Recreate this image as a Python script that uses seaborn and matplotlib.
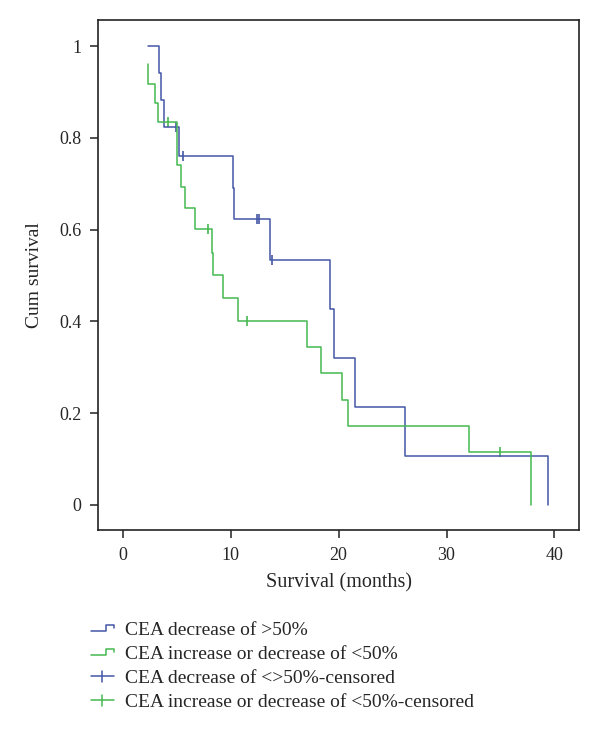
import matplotlib
matplotlib.use("Agg")
import matplotlib.pyplot as plt
import seaborn as sns
import pandas as pd
from matplotlib.lines import Line2D
from matplotlib.legend_handler import HandlerBase

# Kaplan-Meier steps
blue_time = [2.31, 3.36, 3.53, 3.83, 5.24, 10.24, 10.30, 13.64, 19.19, 19.59, 21.50, 26.13, 39.44]
blue_surv = [1.0, 0.941, 0.882, 0.824, 0.760, 0.690, 0.622, 0.533, 0.427, 0.320, 0.213, 0.107, 0.0]
blue_cens_time = [4.94, 5.61, 12.46, 12.65, 13.87]
blue_cens_surv = [0.824, 0.760, 0.622, 0.622, 0.533]

green_time = [2.31, 2.31, 3.02, 3.30, 5.02, 5.37, 5.74, 6.69, 8.24, 8.39, 9.31, 10.65,
              17.04, 18.33, 20.33, 20.83, 32.04, 37.87]
green_surv = [0.960, 0.918, 0.876, 0.834, 0.741, 0.693, 0.648, 0.601, 0.550, 0.502, 0.452, 0.401,
              0.345, 0.287, 0.229, 0.173, 0.115, 0.0]
green_cens_time = [4.17, 7.93, 11.54, 34.94]
green_cens_surv = [0.834, 0.601, 0.401, 0.115]

x_ticks = [0, 10, 20, 30, 40]
y_ticks = [0, 0.2, 0.4, 0.6, 0.8, 1.0]
y_tick_labels = ["0", "0.2", "0.4", "0.6", "0.8", "1"]

labels = ["CEA decrease of >50%",
          "CEA increase or decrease of <50%",
          "CEA decrease of <>50%-censored",
          "CEA increase or decrease of <50%-censored"]

blue = "#4457a6"
green = "#45b950"

sns.set_style("ticks")
plt.rcParams["font.family"] = ["Liberation Serif", "DejaVu Serif"]

fig = plt.figure(figsize=(6, 7.31), dpi=100)
ax = fig.add_axes([0.1638, 0.275, 0.8017, 0.6976])

blue_df = pd.DataFrame({"t": blue_time, "s": blue_surv})
green_df = pd.DataFrame({"t": green_time, "s": green_surv})

sns.lineplot(data=blue_df, x="t", y="s", ax=ax, color=blue, lw=1.1,
             drawstyle="steps-post", sort=False, estimator=None)
sns.lineplot(data=green_df, x="t", y="s", ax=ax, color=green, lw=1.1,
             drawstyle="steps-post", sort=False, estimator=None)
sns.scatterplot(x=blue_cens_time, y=blue_cens_surv, ax=ax, marker="|", s=55,
                color=blue, linewidth=1.2)
sns.scatterplot(x=green_cens_time, y=green_cens_surv, ax=ax, marker="|", s=55,
                color=green, linewidth=1.2)

ax.set_xlim(-2.26, 42.3)
ax.set_ylim(-0.0545, 1.0566)
ax.set_xticks(x_ticks)
ax.set_yticks(y_ticks)
ax.set_yticklabels(y_tick_labels)
ax.tick_params(length=6, width=1.1, color="#222222", labelsize=13, pad=6)
for sp in ax.spines.values():
    sp.set_visible(True)
    sp.set_linewidth(1.2)
    sp.set_color("#222222")
ax.set_xlabel("Survival (months)", fontsize=14.5, labelpad=7)
ax.set_ylabel("Cum survival", fontsize=14, labelpad=12)


class StepHandler(HandlerBase):
    def create_artists(self, legend, orig_handle, xdescent, ydescent,
                       width, height, fontsize, trans):
        x0 = -xdescent
        y0 = -ydescent
        xs = [x0, x0 + 0.68 * width, x0 + 0.68 * width, x0 + width, x0 + width]
        ys = [y0 + 0.3 * height, y0 + 0.3 * height, y0 + 0.72 * height,
              y0 + 0.72 * height, y0 + 0.5 * height]
        ln = Line2D(xs, ys, color=orig_handle.get_color(), lw=1.1)
        ln.set_transform(trans)
        return [ln]


class CrossHandler(HandlerBase):
    def create_artists(self, legend, orig_handle, xdescent, ydescent,
                       width, height, fontsize, trans):
        x0 = -xdescent
        y0 = -ydescent
        h = Line2D([x0, x0 + width], [y0 + 0.5 * height] * 2,
                   color=orig_handle.get_color(), lw=1.1)
        v = Line2D([x0 + 0.5 * width] * 2, [y0 + 0.1 * height, y0 + 0.9 * height],
                   color=orig_handle.get_color(), lw=1.1)
        h.set_transform(trans)
        v.set_transform(trans)
        return [h, v]


h1 = Line2D([], [], color=blue)
h2 = Line2D([], [], color=green)
h3 = Line2D([], [], color=blue, marker="+")
h4 = Line2D([], [], color=green, marker="+")
fig.legend([h1, h2, h3, h4], labels,
           handler_map={h1: StepHandler(), h2: StepHandler(),
                        h3: CrossHandler(), h4: CrossHandler()},
           loc="upper left", bbox_to_anchor=(0.151, 0.150), frameon=False,
           fontsize=14, handlelength=1.2, handletextpad=0.55, labelspacing=0.33,
           borderaxespad=0, borderpad=0)

fig.savefig("out.png", dpi=100)
